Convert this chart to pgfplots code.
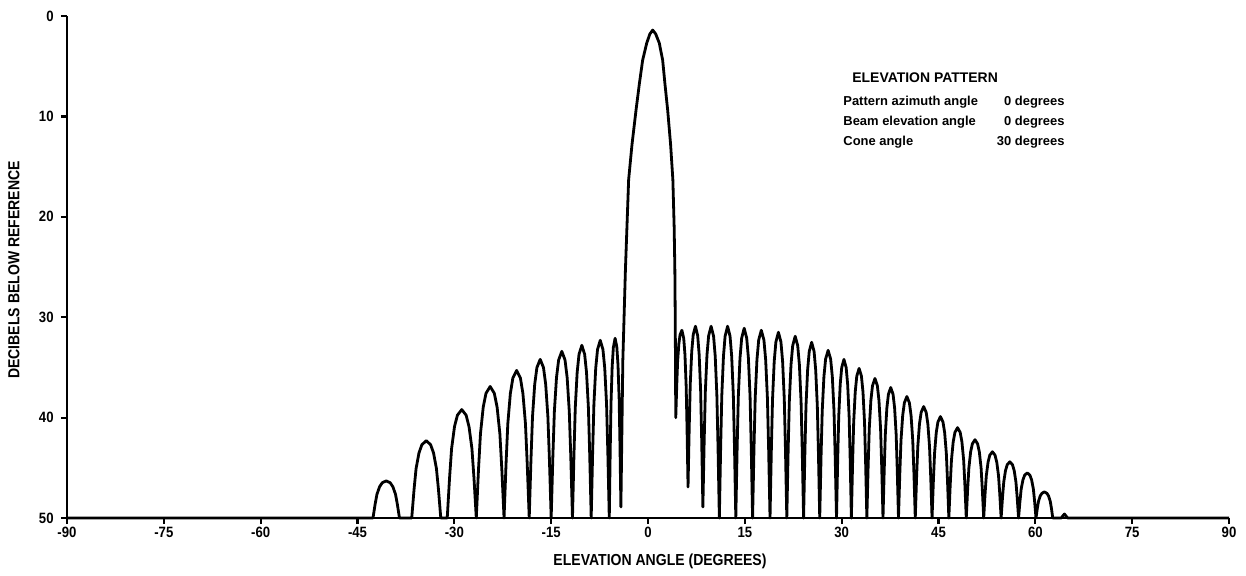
\documentclass[border=0pt]{standalone}
\usepackage{fontspec}
\setmainfont{Liberation Sans}
\newfontfamily\labfont{Liberation Sans}[FakeStretch=0.88]
\usepackage{pgfplots}
\pgfplotsset{compat=1.18}

\begin{document}
\begin{tikzpicture}
\useasboundingbox (-33.5bp,-29bp) rectangle (589.5bp,259bp);
\begin{axis}[
  at={(0,0)}, anchor=south west,
  scale only axis, width=581bp, height=251bp,
  xmin=-90, xmax=90, ymin=0, ymax=50, y dir=reverse,
  axis lines=left,
  axis line style={-, line width=1.3bp, black},
  clip=false,
  xtick={-90,-75,...,90}, ytick={0,10,...,50},
  tick align=outside, major tick length=3bp,
  tick style={line width=1.1bp, black},
  /pgf/number format/assume math mode=true,
  tick label style={font=\labfont\bfseries\fontsize{7.5}{8}\selectfont, inner sep=0pt},
  yticklabel style={anchor=east, xshift=-3.5bp},
  xticklabel style={anchor=north, yshift=-1.5bp},
]
% elevation pattern, dB below the main-beam peak
\addplot[black, line width=1.4bp, line join=round] coordinates {
 (-90,50) (-42.6,50)
 (-42.272,48.63) (-41.985,47.63) (-41.575,46.88) (-41.165,46.49) (-40.55,46.3) (-39.935,46.49) (-39.525,46.88) (-39.115,47.63) (-38.828,48.63) (-38.5,50)
 (-36.6,50)
 (-36.24,47.15) (-35.925,45.07) (-35.475,43.51) (-35.025,42.70) (-34.35,42.3) (-33.675,42.70) (-33.225,43.51) (-32.775,45.07) (-32.46,47.15) (-32.1,50)
 (-31.1,50)
 (-30.74,46.0) (-30.425,43.09) (-29.975,40.9) (-29.525,39.76) (-28.85,39.2) (-28.175,39.76) (-27.725,40.9) (-27.275,43.09) (-26.96,46.0) (-26.6,50)
 (-26.256,45.15) (-25.955,41.62) (-25.525,38.96) (-25.095,37.58) (-24.45,36.9) (-23.805,37.58) (-23.375,38.96) (-22.945,41.62) (-22.644,45.15) (-22.3,50)
 (-21.988,44.56) (-21.715,40.59) (-21.325,37.61) (-20.935,36.06) (-20.35,35.3) (-19.765,36.06) (-19.375,37.61) (-18.985,40.59) (-18.712,44.56) (-18.4,50)
 (-18.128,44.15) (-17.89,39.89) (-17.55,36.68) (-17.21,35.02) (-16.7,34.2) (-16.19,35.02) (-15.85,36.68) (-15.51,39.89) (-15.272,44.15) (-15.0,50)
 (-14.736,43.86) (-14.505,39.38) (-14.175,36.01) (-13.845,34.26) (-13.35,33.4) (-12.855,34.26) (-12.525,36.01) (-12.195,39.38) (-11.964,43.86) (-11.7,50)
 (-11.468,43.64) (-11.265,38.99) (-10.975,35.5) (-10.685,33.69) (-10.25,32.8) (-9.815,33.69) (-9.525,35.5) (-9.235,38.99) (-9.032,43.64) (-8.8,50)
 (-8.576,43.45) (-8.38,38.67) (-8.1,35.08) (-7.82,33.22) (-7.4,32.3) (-6.98,33.22) (-6.7,35.08) (-6.42,38.67) (-6.224,43.45) (-6.0,50)
 (-5.856,43.38) (-5.73,38.54) (-5.55,34.91) (-5.37,33.03) (-5.1,32.1) (-4.83,32.97) (-4.65,34.74) (-4.47,38.15) (-4.344,42.68) (-4.2,48.9)
 (-3.9,34.3) (-3.5,25.3) (-3.0,16.3) (-2.48,12.8) (-1.86,9.4) (-1.35,6.8) (-0.83,4.4) (-0.2,2.7) (0.28,1.8) (0.73,1.4)
 (1.2,1.8) (1.75,2.7) (2.27,4.4) (2.63,6.8) (3.05,9.4) (3.5,12.8) (3.85,16.3) (4.05,21.0) (4.16,25.3) (4.22,30.3) (4.3,40.0)
 (4.452,36.78) (4.585,34.43) (4.775,32.67) (4.965,31.75) (5.25,31.3) (5.535,32.11) (5.725,33.75) (5.915,36.92) (6.048,41.13) (6.2,46.9)
 (6.384,40.98) (6.545,36.66) (6.775,33.41) (7.005,31.73) (7.35,30.9) (7.695,31.84) (7.925,33.73) (8.155,37.38) (8.316,42.24) (8.5,48.9)
 (8.704,42.24) (8.8825,37.38) (9.1375,33.73) (9.3925,31.84) (9.775,30.9) (10.1575,31.89) (10.4125,33.9) (10.6675,37.78) (10.846,42.93) (11.05,50)
 (11.254,42.93) (11.4325,37.78) (11.6875,33.9) (11.9425,31.89) (12.325,30.9) (12.7075,31.89) (12.9625,33.9) (13.2175,37.78) (13.396,42.93) (13.6,50)
 (13.808,43.01) (13.99,37.9) (14.25,34.07) (14.51,32.08) (14.9,31.1) (15.29,32.08) (15.55,34.07) (15.81,37.9) (15.992,43.01) (16.2,50)
 (16.416,43.08) (16.605,38.03) (16.875,34.24) (17.145,32.27) (17.55,31.3) (17.955,32.27) (18.225,34.24) (18.495,38.03) (18.684,43.08) (18.9,50)
 (19.108,43.16) (19.29,38.16) (19.55,34.4) (19.81,32.46) (20.2,31.5) (20.59,32.46) (20.85,34.4) (21.11,38.16) (21.292,43.16) (21.5,50)
 (21.708,43.3) (21.89,38.42) (22.15,34.74) (22.41,32.84) (22.8,31.9) (23.19,32.84) (23.45,34.74) (23.71,38.42) (23.892,43.3) (24.1,50)
 (24.3,43.53) (24.475,38.8) (24.725,35.25) (24.975,33.41) (25.35,32.5) (25.725,33.41) (25.975,35.25) (26.225,38.8) (26.4,43.53) (26.6,50)
 (26.808,43.82) (26.99,39.31) (27.25,35.92) (27.51,34.17) (27.9,33.3) (28.29,34.17) (28.55,35.92) (28.81,39.31) (28.992,43.82) (29.2,50)
 (29.384,44.15) (29.545,39.89) (29.775,36.68) (30.005,35.02) (30.35,34.2) (30.695,35.02) (30.925,36.68) (31.155,39.89) (31.316,44.15) (31.5,50)
 (31.692,44.49) (31.86,40.46) (32.1,37.44) (32.34,35.87) (32.7,35.1) (33.06,35.87) (33.3,37.44) (33.54,40.46) (33.708,44.49) (33.9,50)
 (34.1,44.86) (34.275,41.1) (34.525,38.28) (34.775,36.82) (35.15,36.1) (35.525,36.82) (35.775,38.28) (36.025,41.1) (36.2,44.86) (36.4,50)
 (36.592,45.19) (36.76,41.68) (37.0,39.04) (37.24,37.68) (37.6,37.0) (37.96,37.68) (38.2,39.04) (38.44,41.68) (38.608,45.19) (38.8,50)
 (39.008,45.52) (39.19,42.26) (39.45,39.8) (39.71,38.53) (40.1,37.9) (40.49,38.53) (40.75,39.8) (41.01,42.26) (41.192,45.52) (41.4,50)
 (41.608,45.89) (41.79,42.9) (42.05,40.64) (42.31,39.48) (42.7,38.9) (43.09,39.48) (43.35,40.64) (43.61,42.9) (43.792,45.89) (44.0,50)
 (44.208,46.26) (44.39,43.54) (44.65,41.49) (44.91,40.43) (45.3,39.9) (45.69,40.43) (45.95,41.49) (46.21,43.54) (46.392,46.26) (46.6,50)
 (46.816,46.67) (47.005,44.24) (47.275,42.41) (47.545,41.47) (47.95,41.0) (48.355,41.47) (48.625,42.41) (48.895,44.24) (49.084,46.67) (49.3,50)
 (49.516,47.11) (49.705,45.01) (49.975,43.42) (50.245,42.61) (50.65,42.2) (51.055,42.61) (51.325,43.42) (51.595,45.01) (51.784,47.11) (52.0,50)
 (52.216,47.56) (52.405,45.78) (52.675,44.44) (52.945,43.74) (53.35,43.4) (53.755,43.74) (54.025,44.44) (54.295,45.78) (54.484,47.56) (54.7,50)
 (54.916,47.93) (55.105,46.42) (55.375,45.28) (55.645,44.69) (56.05,44.4) (56.455,44.69) (56.725,45.28) (56.995,46.42) (57.184,47.93) (57.4,50)
 (57.616,48.34) (57.805,47.12) (58.075,46.21) (58.345,45.73) (58.75,45.5) (59.155,45.73) (59.425,46.21) (59.695,47.12) (59.884,48.34) (60.1,50)
 (60.308,49.04) (60.49,48.34) (60.75,47.81) (61.01,47.54) (61.4,47.4) (61.79,47.54) (62.05,47.81) (62.31,48.34) (62.492,49.04) (62.7,50)
 (64.0,50) (64.5,49.6) (65.0,50) (90,50)
};
\end{axis}
% axis titles
\node[font=\labfont\bfseries\fontsize{8}{9}\selectfont, rotate=90] at (-26.5bp,124bp) {DECIBELS BELOW REFERENCE};
\node[font=\labfont\bfseries\fontsize{8}{9}\selectfont] at (296.5bp,-21.5bp) {ELEVATION ANGLE (DEGREES)};
% pattern description
\node[anchor=west, inner sep=0pt, font=\bfseries\fontsize{7}{8}\selectfont] at (392.5bp,220bp) {ELEVATION PATTERN};
\begin{scope}[every node/.style={inner sep=0pt, font=\bfseries\fontsize{6.5}{7.5}\selectfont}]
  \node[anchor=west] at (388bp,208bp) {Pattern azimuth angle};
  \node[anchor=west] at (388bp,198bp) {Beam elevation angle};
  \node[anchor=west] at (388bp,188bp) {Cone angle};
  \node[anchor=east] at (499bp,208bp) {0 degrees};
  \node[anchor=east] at (499bp,198bp) {0 degrees};
  \node[anchor=east] at (499bp,188bp) {30 degrees};
\end{scope}
\end{tikzpicture}
\end{document}
